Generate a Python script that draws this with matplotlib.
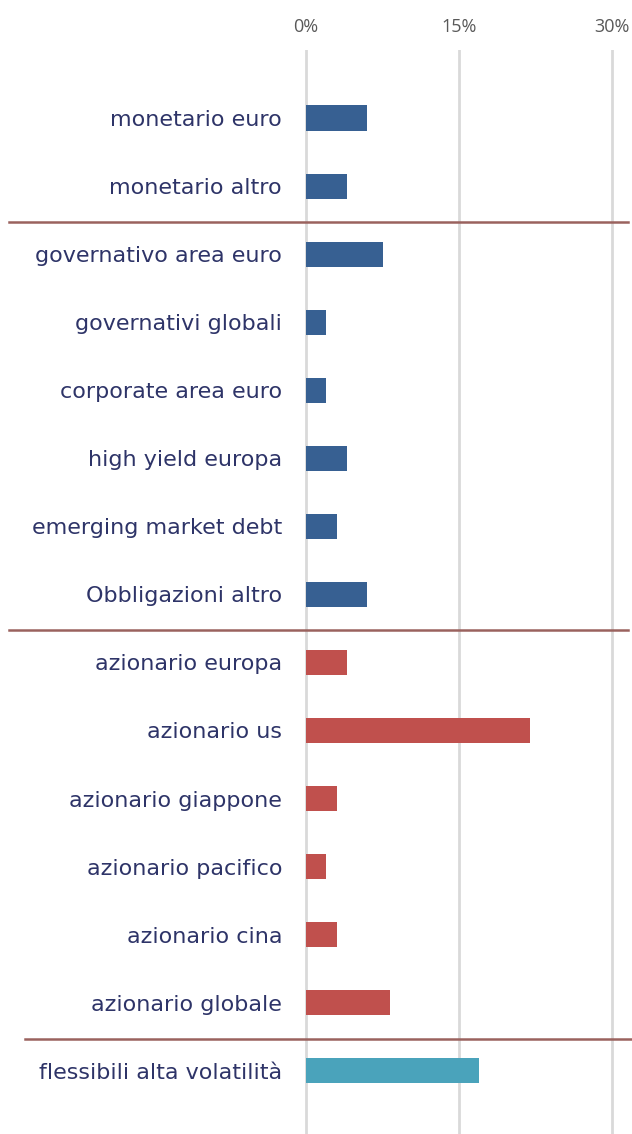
import matplotlib
matplotlib.use('Agg')
import matplotlib.pyplot as plt
import matplotlib.transforms as mtransforms
from matplotlib.ticker import FuncFormatter

# categories top to bottom
categories = ['monetario euro', 'monetario altro',
              'governativo area euro', 'governativi globali', 'corporate area euro',
              'high yield europa', 'emerging market debt', 'Obbligazioni altro',
              'azionario europa', 'azionario us', 'azionario giappone',
              'azionario pacifico', 'azionario cina', 'azionario globale',
              'flessibili alta volatilità']
weights = [6, 4, 7.5, 2, 2, 4, 3, 6, 4, 22, 3, 2, 3, 8.2, 17]
groups = ['mon', 'mon', 'obb', 'obb', 'obb', 'obb', 'obb', 'obb',
          'az', 'az', 'az', 'az', 'az', 'az', 'flex']
x_ticks = [0, 15, 30]
separators = [1.5, 7.5, 13.5]

colors = {'mon': '#376092', 'obb': '#376092', 'az': '#c0504d', 'flex': '#4aa3bb'}

W, H = 632, 1134
PX = 306 / 30.0  # pixels per percent point
fig = plt.figure(figsize=(W / 100, H / 100), dpi=100)
ax = fig.add_axes([296 / W, 0, 328 / W, (H - 50) / H])

ypos = list(range(len(categories)))
ax.barh(ypos, weights, height=0.37, color=[colors[g] for g in groups], zorder=3)

ax.set_xlim(-10 / PX, 318 / PX)
ax.set_ylim(14.93, -1.0)
ax.set_xticks(x_ticks)
ax.xaxis.set_major_formatter(FuncFormatter(lambda v, p: '%d%%' % v))
ax.xaxis.tick_top()
ax.tick_params(axis='x', length=0, pad=10, labelsize=13, labelcolor='#595959')
for lab in ax.get_xticklabels():
    lab.set_family('Open Sans')
ax.set_yticks(ypos)
ax.set_yticklabels(categories, family='DejaVu Sans', fontsize=16, color='#2e3468')
ax.tick_params(axis='y', length=0, pad=10)
ax.grid(axis='x', color='#d9d9d9', linewidth=2, zorder=0)
for s in ax.spines.values():
    s.set_visible(False)

# group separators across labels and plot
trans = mtransforms.blended_transform_factory(fig.transFigure, ax.transData)
sep_x = [(9 / W, 628 / W), (9 / W, 628 / W), (25 / W, 1.0)]
for y, (x0, x1) in zip(separators, sep_x):
    ax.plot([x0, x1], [y + 0.03, y + 0.03], transform=trans, color='#9a625e',
            linewidth=1.8, clip_on=False, zorder=4)

fig.savefig('out.png', dpi=100)
